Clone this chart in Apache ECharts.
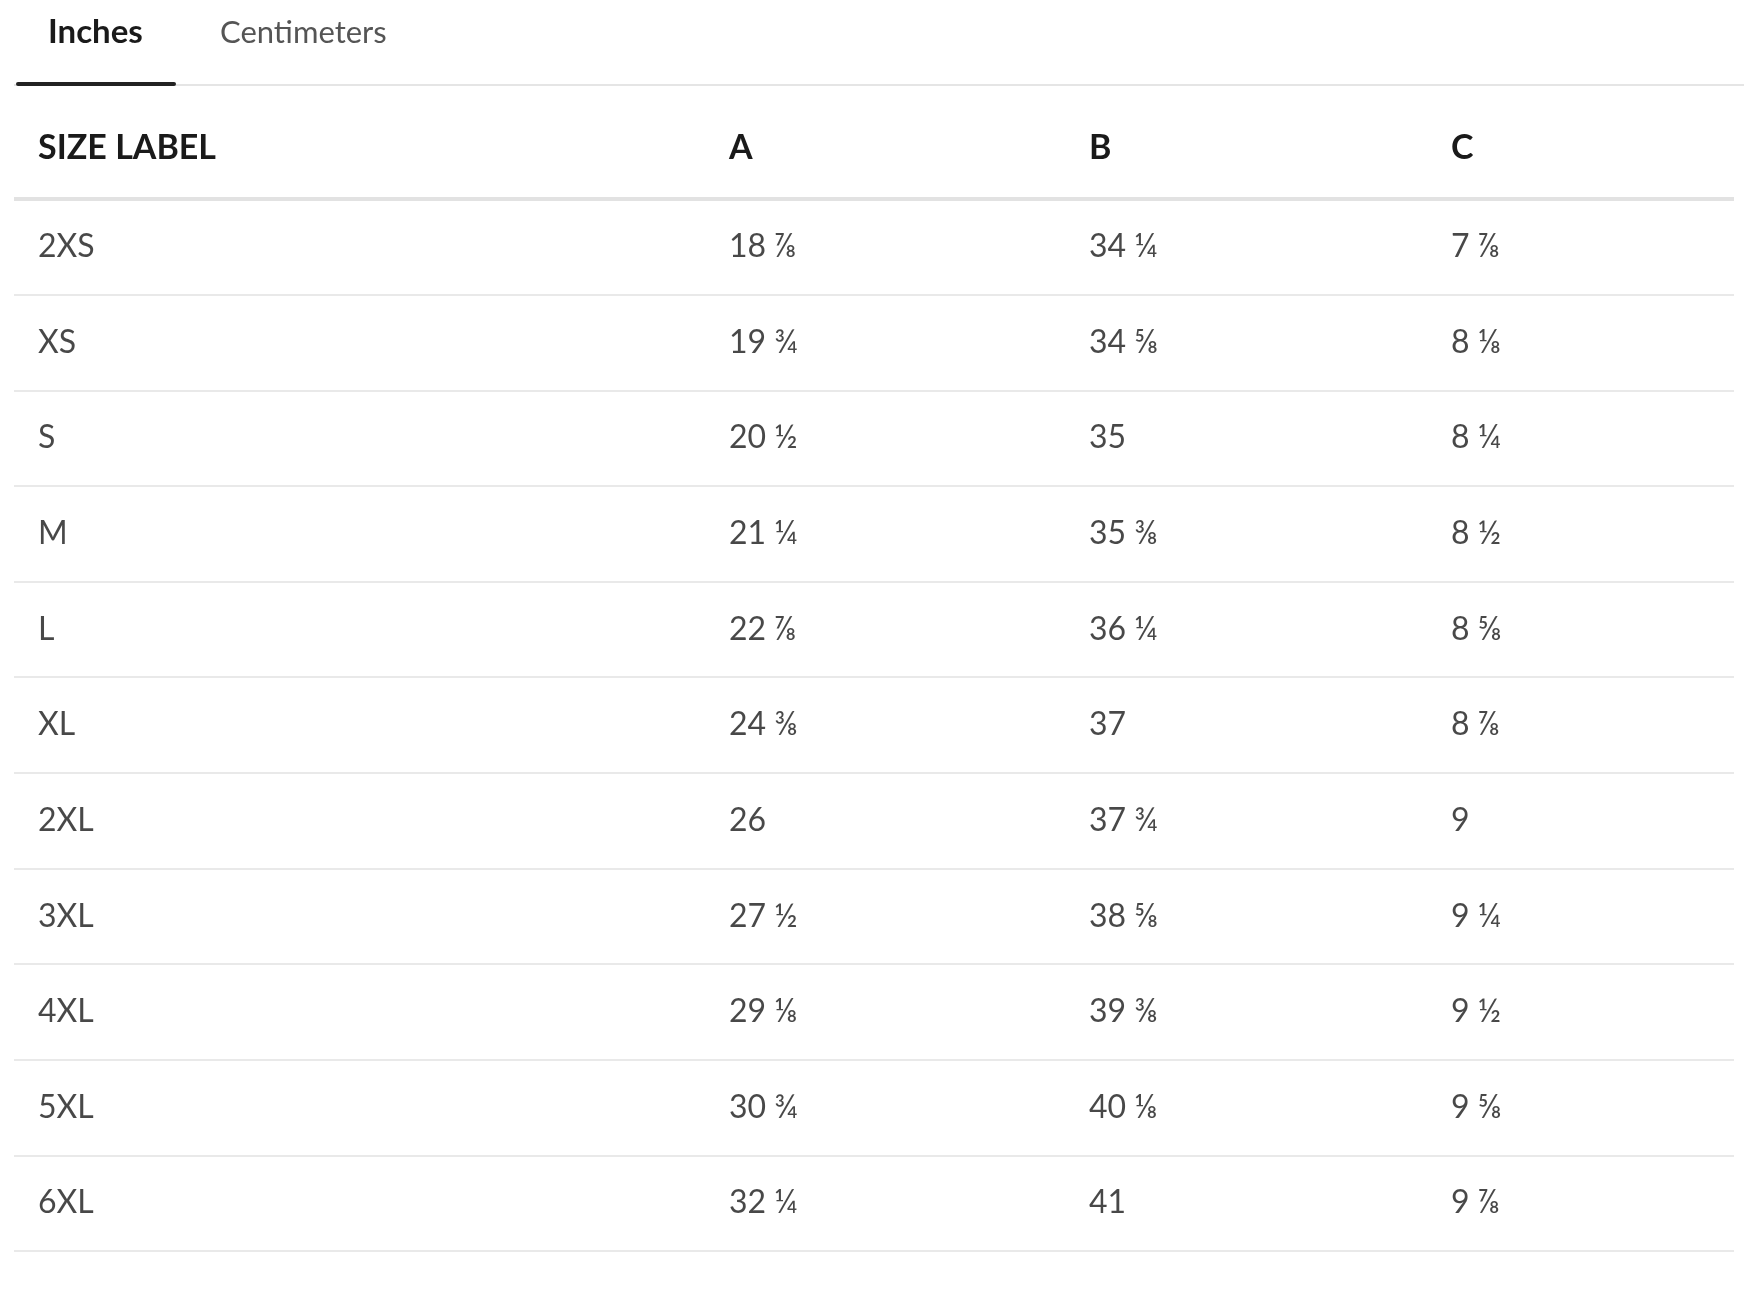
<!DOCTYPE html>
<html><head><meta charset="utf-8">
<script src="https://cdn.jsdelivr.net/npm/echarts@6/dist/echarts.min.js"></script>
<style>html,body{margin:0;background:#fff}#c{width:1758px;height:1302px}</style>
</head><body><div id="c"></div>
<script>
const sizes = ['2XS','XS','S','M','L','XL','2XL','3XL','4XL','5XL','6XL'];
const colA = ['18 ⅞','19 ¾','20 ½','21 ¼','22 ⅞','24 ⅜','26','27 ½','29 ⅛','30 ¾','32 ¼'];
const colB = ['34 ¼','34 ⅝','35','35 ⅜','36 ¼','37','37 ¾','38 ⅝','39 ⅜','40 ⅛','41'];
const colC = ['7 ⅞','8 ⅛','8 ¼','8 ½','8 ⅝','8 ⅞','9','9 ¼','9 ½','9 ⅝','9 ⅞'];
const headers = ['SIZE LABEL','A','B','C'];
const tabs = ['Inches','Centimeters'];

const colX = [38, 729, 1089, 1451];
const cols = [sizes, colA, colB, colC];
const data = [];
cols.forEach((c, ci) => c.forEach((t, ri) => data.push([colX[ci], sizes[ri], t])));
const F = 'Lato, "Open Sans", sans-serif';
const chart = echarts.init(document.getElementById('c'));
chart.setOption({
  animation: false,
  grid: {left: 14, right: 24, top: 199, bottom: 51},
  xAxis: {type: 'value', min: 14, max: 1734, show: false},
  yAxis: {type: 'category', data: sizes, inverse: true,
    axisLine: {show: false}, axisTick: {show: false}, axisLabel: {show: false},
    splitLine: {show: true, lineStyle: {color: '#e2e2e2', width: 1.5}}},
  series: [{type: 'scatter', symbolSize: 0, data: data,
    label: {show: true, position: 'right', distance: 0, formatter: p => p.data[2],
      fontFamily: F, fontSize: 32, color: '#1a1a1a'}}],
  graphic: [
    {type: 'text', left: 48, top: 16, style: {text: tabs[0], font: 'bold 33px ' + F, fill: '#1a1a1a'}},
    {type: 'text', left: 220, top: 17, style: {text: tabs[1], font: '31px ' + F, fill: '#555'}},
    {type: 'rect', shape: {x: 14, y: 84, width: 1730, height: 2}, style: {fill: '#e5e5e5'}},
    {type: 'rect', shape: {x: 16, y: 82, width: 160, height: 4, r: 2}, style: {fill: '#222'}},
    {type: 'rect', shape: {x: 14, y: 197, width: 1720, height: 4}, style: {fill: '#e2e2e2'}},
    ...headers.map((h, i) => ({type: 'text', left: colX[i], top: 131,
      style: {text: h, font: 'bold 34px ' + F, fill: '#1a1a1a'}}))
  ]
});
</script></body></html>
